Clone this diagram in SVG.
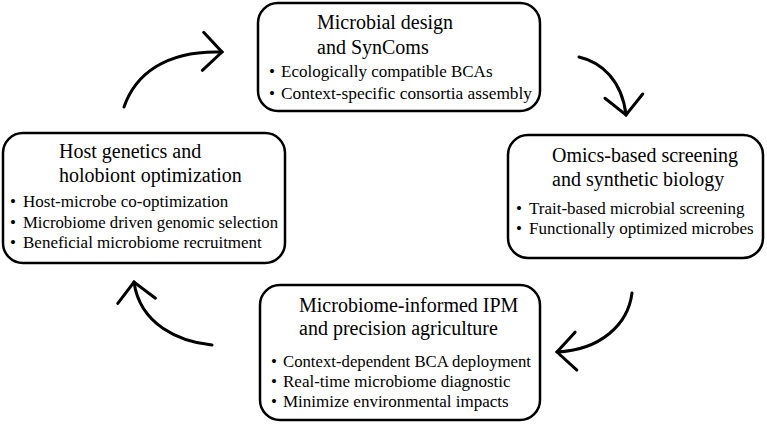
<svg xmlns="http://www.w3.org/2000/svg" width="767" height="426" viewBox="0 0 767 426">
<style>
.box{fill:#fff;stroke:#000;stroke-width:2.5}
.t{font-family:"Liberation Serif","Times New Roman",serif;font-size:20px;fill:#000}
.b{font-family:"Liberation Serif","Times New Roman",serif;font-size:17px;fill:#000}
.arr{fill:none;stroke:#000;stroke-width:3;stroke-linecap:round;marker-end:url(#chev)}
</style>
<defs>
<marker id="chev" markerUnits="userSpaceOnUse" markerWidth="60" markerHeight="60" viewBox="-30 -30 60 60" refX="0" refY="0" orient="auto" overflow="visible">
<path d="M-19,-19 L0,0 L-19,19" fill="none" stroke="#000" stroke-width="3" stroke-linecap="round"/>
</marker>
</defs>
<rect width="767" height="426" fill="#fff"/>
<g id="connectors">
<path class="arr" d="M124,107 C135,75 165,50 222,52"/>
<path class="arr" d="M579,57 C601,62 622,80 626,115"/>
<path class="arr" d="M632,293 C628,325 600,350 557,352"/>
<path class="arr" d="M212,345 C180,342 140,325 134,282"/>
</g>
<g id="node-microbial-design">
<rect class="box" x="258" y="3" width="282" height="108" rx="20"/>
<text class="t" x="317" y="29">Microbial design</text>
<text class="t" x="317" y="54">and SynComs</text>
<text class="b"><tspan x="269" y="77">•</tspan><tspan x="281">Ecologically compatible BCAs</tspan></text>
<text class="b"><tspan x="269" y="99">•</tspan><tspan x="281" textLength="251" lengthAdjust="spacingAndGlyphs">Context-specific consortia assembly</tspan></text>
</g>
<g id="node-omics">
<rect class="box" x="508" y="135" width="255" height="123" rx="20"/>
<text class="t" x="552" y="162">Omics-based screening</text>
<text class="t" x="552" y="186">and synthetic biology</text>
<text class="b"><tspan x="516" y="214">•</tspan><tspan x="529">Trait-based microbial screening</tspan></text>
<text class="b"><tspan x="516" y="234">•</tspan><tspan x="529">Functionally optimized microbes</tspan></text>
</g>
<g id="node-ipm">
<rect class="box" x="260" y="285" width="280" height="135" rx="20"/>
<text class="t" x="299" y="312">Microbiome-informed IPM</text>
<text class="t" x="299" y="335">and precision agriculture</text>
<text class="b"><tspan x="271" y="367">•</tspan><tspan x="283" textLength="248" lengthAdjust="spacingAndGlyphs">Context-dependent BCA deployment</tspan></text>
<text class="b"><tspan x="271" y="387">•</tspan><tspan x="283">Real-time microbiome diagnostic</tspan></text>
<text class="b"><tspan x="271" y="407">•</tspan><tspan x="283">Minimize environmental impacts</tspan></text>
</g>
<g id="node-host">
<rect class="box" x="3" y="133" width="282" height="130" rx="20"/>
<text class="t" x="59" y="158">Host genetics and</text>
<text class="t" x="59" y="182">holobiont optimization</text>
<text class="b"><tspan x="10" y="207">•</tspan><tspan x="23">Host-microbe co-optimization</tspan></text>
<text class="b"><tspan x="10" y="228">•</tspan><tspan x="23" textLength="255" lengthAdjust="spacingAndGlyphs">Microbiome driven genomic selection</tspan></text>
<text class="b"><tspan x="10" y="248">•</tspan><tspan x="23">Beneficial microbiome recruitment</tspan></text>
</g>
</svg>
